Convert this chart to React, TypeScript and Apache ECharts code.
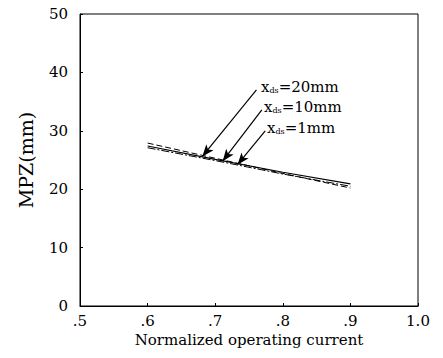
import React, { useEffect, useRef } from "react";
import * as echarts from "echarts";

const xValues = [0.6, 0.7, 0.8, 0.9];
const mpz1mm = [27.4, 25.1, 22.9, 20.9];
const mpz10mm = [27.9, 25.3, 22.7, 20.2];
const mpz20mm = [27.1, 24.9, 22.6, 20.5];
const xTicks = [0.5, 0.6, 0.7, 0.8, 0.9, 1.0];
const xTickLabels = [".5", ".6", ".7", ".8", ".9", "1.0"];
const labels = ["20mm", "10mm", "1mm"];
// arrows: [startX, startY, endX, endY] in data space
const arrow20 = [0.761, 37.0, 0.681, 25.6];
const arrow10 = [0.769, 33.6, 0.711, 24.8];
const arrow1 = [0.774, 30.0, 0.733, 24.2];

const FONT = "'DejaVu Serif', 'Liberation Serif', serif";

export default function App() {
  const ref = useRef<HTMLDivElement>(null);
  useEffect(() => {
    if (!ref.current) return;
    const chart = echarts.init(ref.current, undefined, { renderer: "svg" });
    const pair = (ys: number[]) => xValues.map((x, i) => [x, ys[i]]);
    const arrowLine = (a: number[]) => [{ coord: [a[0], a[1]] }, { coord: [a[2], a[3]] }];
    const labelText = (s: string) => `{x|x}{s|ds}{n|=${s}}`;
    const rich = {
      x: { fontFamily: FONT, fontSize: 15, fill: "#000" },
      s: { fontFamily: FONT, fontSize: 8, fill: "#000", padding: [8, 0, 0, 0] },
      n: { fontFamily: FONT, fontSize: 15, fill: "#000" },
    };
    chart.setOption({
      animation: false,
      backgroundColor: "#fff",
      grid: { left: 80, right: 25, top: 14, bottom: 52, show: true, borderColor: "#000", borderWidth: 1 },
      xAxis: {
        type: "value",
        min: 0.5,
        max: 1.0,
        interval: 0.1,
        name: "Normalized operating current",
        nameLocation: "middle",
        nameGap: 17,
        nameTextStyle: { fontFamily: FONT, fontSize: 15, color: "#000" },
        axisLine: { lineStyle: { color: "#000", width: 1 } },
        axisTick: { inside: true, length: 3, lineStyle: { color: "#000" } },
        axisLabel: {
          fontFamily: FONT,
          fontSize: 15,
          color: "#000",
          margin: 7,
          formatter: (v: number) => {
            const i = xTicks.findIndex((t) => Math.abs(t - v) < 1e-6);
            return i >= 0 ? xTickLabels[i] : "";
          },
        },
        splitLine: { show: false },
      },
      yAxis: {
        type: "value",
        min: 0,
        max: 50,
        interval: 10,
        name: "MPZ(mm)",
        nameLocation: "middle",
        nameGap: 45,
        nameTextStyle: { fontFamily: FONT, fontSize: 19, color: "#000" },
        axisLine: { lineStyle: { color: "#000", width: 1 } },
        axisTick: { inside: true, length: 3, lineStyle: { color: "#000" } },
        axisLabel: { fontFamily: FONT, fontSize: 15, color: "#000", margin: 12 },
        splitLine: { show: false },
      },
      series: [
        {
          name: "xds=1mm",
          type: "line",
          data: pair(mpz1mm),
          symbol: "none",
          lineStyle: { color: "#000", width: 1.2, type: "solid" },
          markLine: {
            silent: true,
            symbol: ["none", "arrow"],
            symbolSize: [7, 12],
            lineStyle: { color: "#000", width: 1.2, type: "solid" },
            label: { show: false },
            data: [arrowLine(arrow20), arrowLine(arrow10), arrowLine(arrow1)],
          },
        },
        {
          name: "xds=10mm",
          type: "line",
          data: pair(mpz10mm),
          symbol: "none",
          lineStyle: { color: "#000", width: 1, type: [6, 3] },
        },
        {
          name: "xds=20mm",
          type: "line",
          data: pair(mpz20mm),
          symbol: "none",
          lineStyle: { color: "#000", width: 1, type: [8, 2, 2, 2] },
        },
      ],
      graphic: [
        { type: "text", left: 261, top: 79, style: { text: labelText(labels[0]), rich } },
        { type: "text", left: 264, top: 99, style: { text: labelText(labels[1]), rich } },
        { type: "text", left: 267, top: 120, style: { text: labelText(labels[2]), rich } },
      ],
    });
    return () => chart.dispose();
  }, []);
  return <div ref={ref} style={{ width: 443, height: 358, position: "absolute", left: 0, top: 0 }} />;
}
